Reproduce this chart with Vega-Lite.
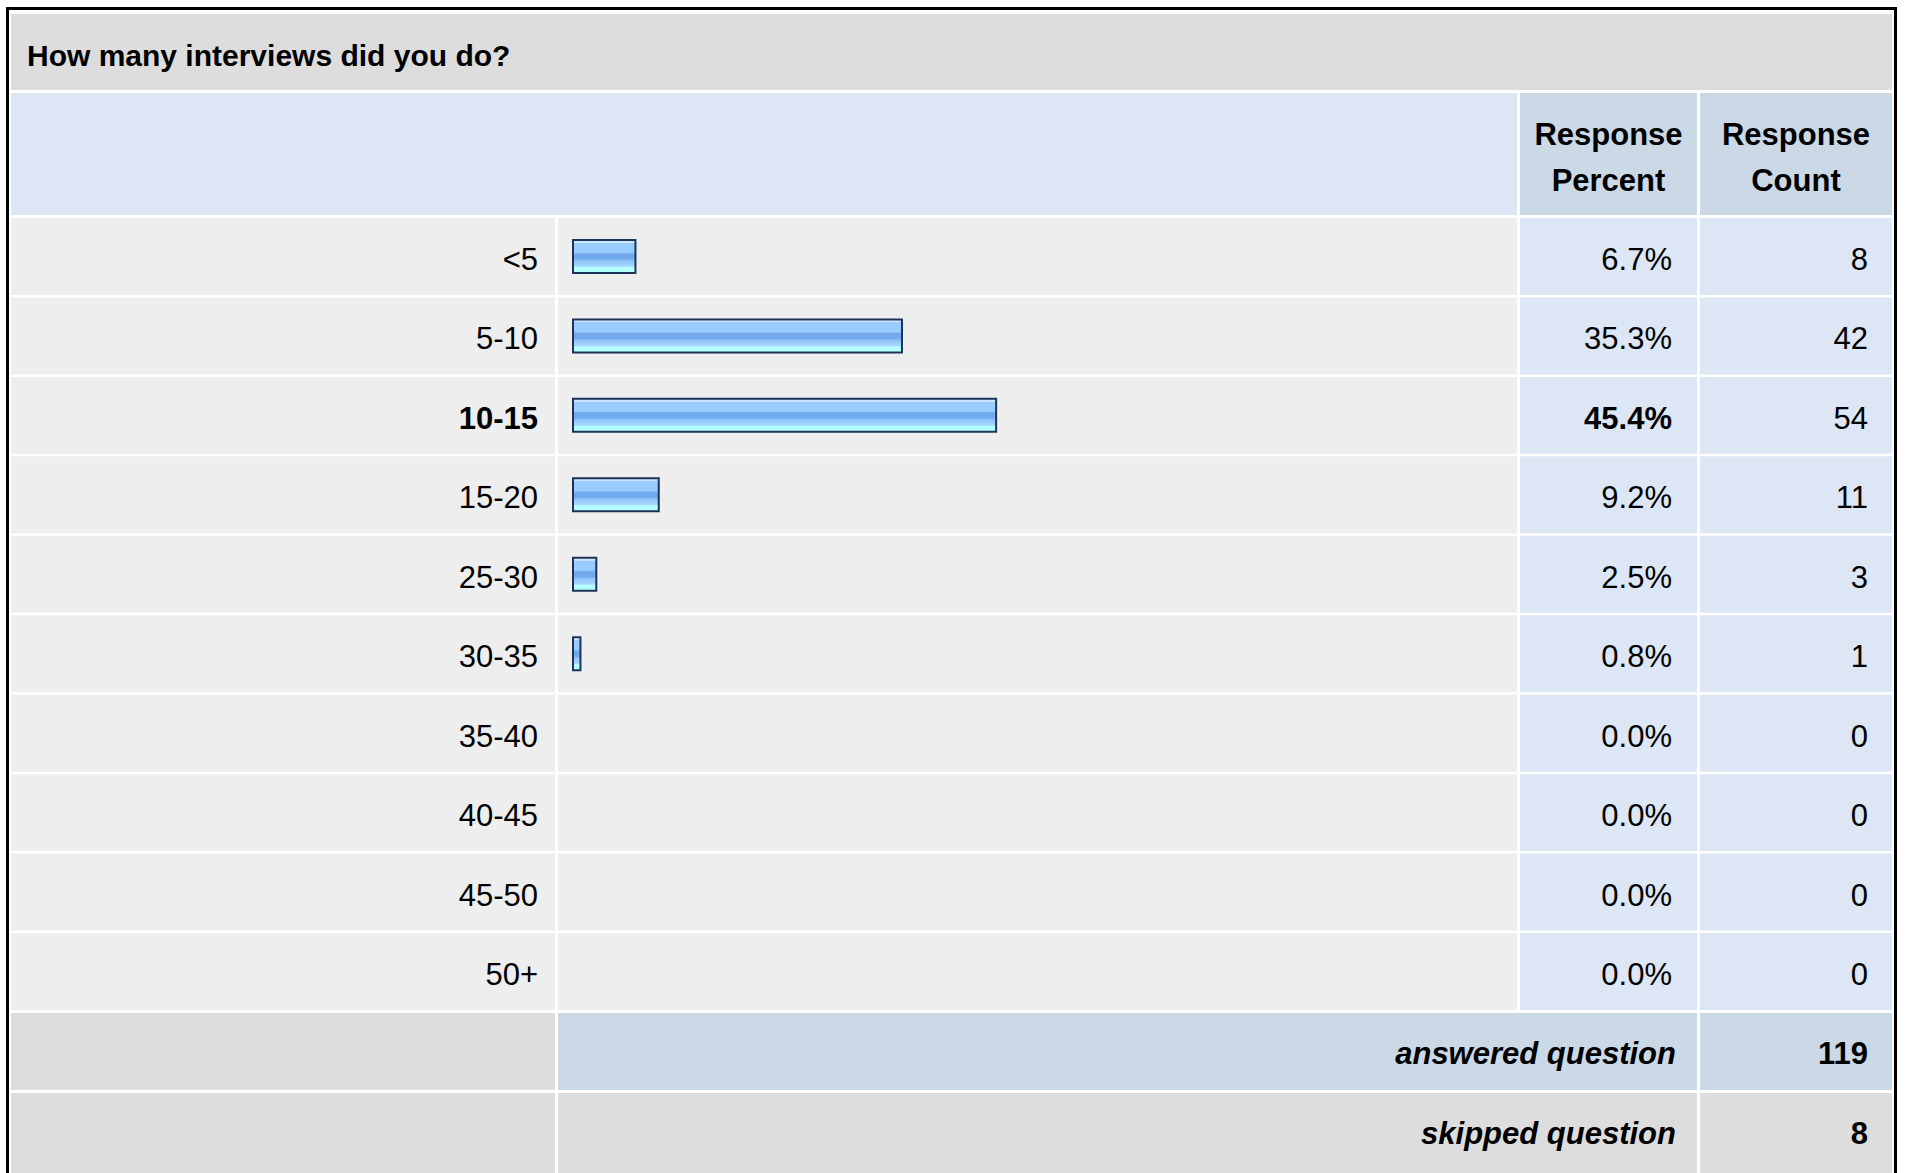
{
  "$schema": "https://vega.github.io/schema/vega-lite/v6.json",
  "background": "white",
  "padding": {"left": 6, "top": 7, "right": 0, "bottom": 0},
  "config": {
    "view": {"stroke": null},
    "font": "Liberation Sans",
    "text": {"font": "Liberation Sans", "fontSize": 31, "color": "#000000"}
  },
  "datasets": {
    "answers": [
      {"answer": "<5", "percent": 0.067, "count": 8},
      {"answer": "5-10", "percent": 0.353, "count": 42},
      {"answer": "10-15", "percent": 0.454, "count": 54},
      {"answer": "15-20", "percent": 0.092, "count": 11},
      {"answer": "25-30", "percent": 0.025, "count": 3},
      {"answer": "30-35", "percent": 0.008, "count": 1},
      {"answer": "35-40", "percent": 0, "count": 0},
      {"answer": "40-45", "percent": 0, "count": 0},
      {"answer": "45-50", "percent": 0, "count": 0},
      {"answer": "50+", "percent": 0, "count": 0}
    ],
    "summary": [
      {"label": "answered question", "count": 119},
      {"label": "skipped question", "count": 8}
    ],
    "question": [{"text": "How many interviews did you do?"}],
    "headers": [{"column": "Response Percent"}, {"column": "Response Count"}]
  },
  "spacing": 0,
  "vconcat": [
    {"width": 1891, "height": 3, "data": {"name": "question"}, "mark": {"type": "rect", "color": "#000000"}, "encoding": {}},
    {
      "spacing": 2,
      "hconcat": [
        {"width": 3, "height": 1163, "data": {"name": "question"}, "mark": {"type": "rect", "color": "#000000"}, "encoding": {}},
        {
          "spacing": 3,
          "vconcat": [
            {"width": 1881, "height": 0.001, "data": {"name": "question"}, "mark": {"type": "rect", "opacity": 0}, "encoding": {}},
            {
              "width": 1881, "height": 76, "data": {"name": "question"},
              "layer": [
                {"mark": {"type": "rect", "color": "#dddddd"}, "encoding": {}},
                {"mark": {"type": "text", "fontWeight": "bold", "fontSize": 30, "align": "left", "baseline": "middle", "dx": 16, "dy": 5},
                 "encoding": {"text": {"field": "text"}, "x": {"value": 0}}}
              ]
            },
            {
              "spacing": 3,
              "hconcat": [
                {"width": 1506, "height": 122, "data": {"name": "question"}, "mark": {"type": "rect", "color": "#dce6f4"}, "encoding": {}},
                {
                  "width": 177, "height": 122, "data": {"name": "headers"},
                  "transform": [{"filter": "datum.column === 'Response Percent'"}],
                  "layer": [
                    {"mark": {"type": "rect", "color": "#cbd8e6"}, "encoding": {}},
                    {"mark": {"type": "text", "fontWeight": "bold", "lineBreak": " ", "lineHeight": 46, "align": "center", "baseline": "middle", "dy": -18},
                     "encoding": {"text": {"field": "column"}}}
                  ]
                },
                {
                  "width": 192, "height": 122, "data": {"name": "headers"},
                  "transform": [{"filter": "datum.column === 'Response Count'"}],
                  "layer": [
                    {"mark": {"type": "rect", "color": "#cbd8e6"}, "encoding": {}},
                    {"mark": {"type": "text", "fontWeight": "bold", "lineBreak": " ", "lineHeight": 46, "align": "center", "baseline": "middle", "dy": -18},
                     "encoding": {"text": {"field": "column"}}}
                  ]
                }
              ]
            },
            {
              "spacing": 3,
              "hconcat": [
                {
                  "width": 544, "height": 792, "data": {"name": "answers"},
                  "transform": [{"joinaggregate": [{"op": "max", "field": "count", "as": "maxCount"}]}],
                  "layer": [
                    {"mark": {"type": "rect", "color": "#eeeeee"},
                     "encoding": {"y": {"field": "answer", "type": "nominal", "axis": null, "scale": {"domain": ["<5", "5-10", "10-15", "15-20", "25-30", "30-35", "35-40", "40-45", "45-50", "50+"], "paddingInner": 0.0315, "paddingOuter": 0}}}},
                    {"transform": [{"filter": "datum.count < datum.maxCount"}],
                     "mark": {"type": "text", "align": "right", "baseline": "middle", "dx": -17, "dy": 4.5},
                     "encoding": {"y": {"field": "answer", "type": "nominal", "axis": null}, "x": {"value": "width"}, "text": {"field": "answer"}}},
                    {"transform": [{"filter": "datum.count === datum.maxCount"}],
                     "mark": {"type": "text", "align": "right", "baseline": "middle", "dx": -17, "dy": 4.5, "fontWeight": "bold"},
                     "encoding": {"y": {"field": "answer", "type": "nominal", "axis": null}, "x": {"value": "width"}, "text": {"field": "answer"}}}
                  ]
                },
                {
                  "width": 959, "height": 792, "data": {"name": "answers"},
                  "layer": [
                    {"mark": {"type": "rect", "color": "#eeeeee"},
                     "encoding": {"y": {"field": "answer", "type": "nominal", "axis": null, "scale": {"domain": ["<5", "5-10", "10-15", "15-20", "25-30", "30-35", "35-40", "40-45", "45-50", "50+"], "paddingInner": 0.0315, "paddingOuter": 0}}}},
                    {"transform": [{"filter": "datum.percent > 0"}],
                     "mark": {"type": "bar", "size": 33, "stroke": "#1c3459", "strokeWidth": 2,
                              "fill": {"gradient": "linear", "x1": 0, "y1": 0, "x2": 0, "y2": 1,
                                       "stops": [
                                         {"offset": 0, "color": "#cce6ff"},
                                         {"offset": 0.08, "color": "#cce6ff"},
                                         {"offset": 0.09, "color": "#99ccff"},
                                         {"offset": 0.38, "color": "#99ccff"},
                                         {"offset": 0.42, "color": "#73aaee"},
                                         {"offset": 0.58, "color": "#73aaee"},
                                         {"offset": 0.62, "color": "#8cc2f8"},
                                         {"offset": 0.8, "color": "#a8d8ff"},
                                         {"offset": 0.83, "color": "#b4ffff"},
                                         {"offset": 1, "color": "#b4ffff"}
                                       ]}},
                     "encoding": {"y": {"field": "answer", "type": "nominal", "axis": null},
                                  "x": {"field": "percent", "type": "quantitative", "axis": null, "scale": {"domain": [0, 1], "range": [15, 947]}}}}
                  ]
                },
                {
                  "width": 177, "height": 792, "data": {"name": "answers"},
                  "transform": [{"joinaggregate": [{"op": "max", "field": "count", "as": "maxCount"}]}],
                  "layer": [
                    {"mark": {"type": "rect", "color": "#dce6f4"},
                     "encoding": {"y": {"field": "answer", "type": "nominal", "axis": null, "scale": {"domain": ["<5", "5-10", "10-15", "15-20", "25-30", "30-35", "35-40", "40-45", "45-50", "50+"], "paddingInner": 0.0315, "paddingOuter": 0}}}},
                    {"transform": [{"filter": "datum.count < datum.maxCount"}],
                     "mark": {"type": "text", "align": "right", "baseline": "middle", "dx": -25, "dy": 4.5},
                     "encoding": {"y": {"field": "answer", "type": "nominal", "axis": null}, "x": {"value": "width"}, "text": {"field": "percent", "type": "quantitative", "format": ".1%"}}},
                    {"transform": [{"filter": "datum.count === datum.maxCount"}],
                     "mark": {"type": "text", "align": "right", "baseline": "middle", "dx": -25, "dy": 4.5, "fontWeight": "bold"},
                     "encoding": {"y": {"field": "answer", "type": "nominal", "axis": null}, "x": {"value": "width"}, "text": {"field": "percent", "type": "quantitative", "format": ".1%"}}}
                  ]
                },
                {
                  "width": 192, "height": 792, "data": {"name": "answers"},
                  "layer": [
                    {"mark": {"type": "rect", "color": "#dce6f4"},
                     "encoding": {"y": {"field": "answer", "type": "nominal", "axis": null, "scale": {"domain": ["<5", "5-10", "10-15", "15-20", "25-30", "30-35", "35-40", "40-45", "45-50", "50+"], "paddingInner": 0.0315, "paddingOuter": 0}}}},
                    {"mark": {"type": "text", "align": "right", "baseline": "middle", "dx": -24, "dy": 4.5},
                     "encoding": {"y": {"field": "answer", "type": "nominal", "axis": null}, "x": {"value": "width"}, "text": {"field": "count", "type": "quantitative", "format": "d"}}}
                  ]
                }
              ]
            },
            {
              "spacing": 3,
              "hconcat": [
                {"width": 544, "height": 77, "data": {"name": "summary"}, "transform": [{"filter": "datum.label === 'answered question'"}],
                 "mark": {"type": "rect", "color": "#dddddd"}, "encoding": {}},
                {"width": 1139, "height": 77, "data": {"name": "summary"}, "transform": [{"filter": "datum.label === 'answered question'"}],
                 "layer": [
                   {"mark": {"type": "rect", "color": "#cbd8e6"}, "encoding": {}},
                   {"mark": {"type": "text", "align": "right", "baseline": "middle", "dx": -21, "dy": 3, "fontWeight": "bold", "fontStyle": "italic"},
                    "encoding": {"x": {"value": "width"}, "text": {"field": "label"}}}
                 ]},
                {"width": 192, "height": 77, "data": {"name": "summary"}, "transform": [{"filter": "datum.label === 'answered question'"}],
                 "layer": [
                   {"mark": {"type": "rect", "color": "#cbd8e6"}, "encoding": {}},
                   {"mark": {"type": "text", "align": "right", "baseline": "middle", "dx": -24, "dy": 3, "fontWeight": "bold"},
                    "encoding": {"x": {"value": "width"}, "text": {"field": "count", "type": "quantitative", "format": "d"}}}
                 ]}
              ]
            },
            {
              "spacing": 3,
              "hconcat": [
                {"width": 544, "height": 80, "data": {"name": "summary"}, "transform": [{"filter": "datum.label === 'skipped question'"}],
                 "mark": {"type": "rect", "color": "#dddddd"}, "encoding": {}},
                {"width": 1139, "height": 80, "data": {"name": "summary"}, "transform": [{"filter": "datum.label === 'skipped question'"}],
                 "layer": [
                   {"mark": {"type": "rect", "color": "#dddddd"}, "encoding": {}},
                   {"mark": {"type": "text", "align": "right", "baseline": "middle", "dx": -21, "dy": 2, "fontWeight": "bold", "fontStyle": "italic"},
                    "encoding": {"x": {"value": "width"}, "text": {"field": "label"}}}
                 ]},
                {"width": 192, "height": 80, "data": {"name": "summary"}, "transform": [{"filter": "datum.label === 'skipped question'"}],
                 "layer": [
                   {"mark": {"type": "rect", "color": "#dddddd"}, "encoding": {}},
                   {"mark": {"type": "text", "align": "right", "baseline": "middle", "dx": -24, "dy": 2, "fontWeight": "bold"},
                    "encoding": {"x": {"value": "width"}, "text": {"field": "count", "type": "quantitative", "format": "d"}}}
                 ]}
              ]
            }
          ]
        },
        {"width": 3, "height": 1163, "data": {"name": "question"}, "mark": {"type": "rect", "color": "#000000"}, "encoding": {}}
      ]
    }
  ]
}
